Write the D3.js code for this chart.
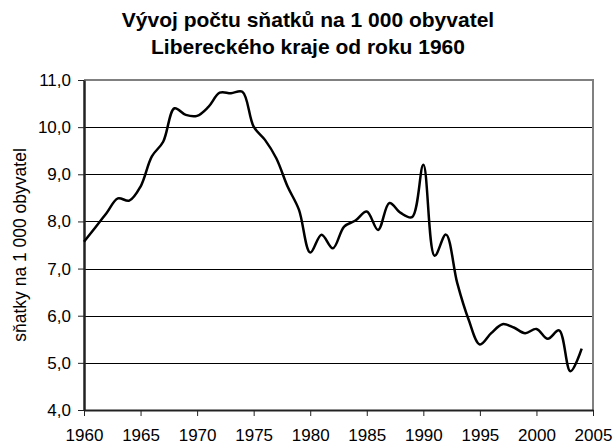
<!DOCTYPE html>
<html>
<head>
<meta charset="utf-8">
<script src="https://cdn.jsdelivr.net/npm/d3@7"></script>
<style>
  body { margin: 0; background: #fff; }
  text { font-family: "Liberation Sans", Arial, sans-serif; }
</style>
</head>
<body>
<div id="chart"></div>
<script>
// Marriages per 1 000 inhabitants, Liberec region
var years = [1960, 1961, 1962, 1963, 1964, 1965, 1966, 1967, 1968, 1969,
             1970, 1971, 1972, 1973, 1974, 1975, 1976, 1977, 1978, 1979,
             1980, 1981, 1982, 1983, 1984, 1985, 1986, 1987, 1988, 1989,
             1990, 1991, 1992, 1993, 1994, 1995, 1996, 1997, 1998, 1999,
             2000, 2001, 2002, 2003, 2004];
var rates = [7.57, 7.87, 8.18, 8.49, 8.44, 8.74, 9.38, 9.69, 10.40, 10.26,
             10.24, 10.43, 10.73, 10.72, 10.75, 10.01, 9.73, 9.34, 8.74, 8.25,
             7.34, 7.72, 7.43, 7.89, 8.02, 8.21, 7.82, 8.39, 8.18, 8.09,
             9.20, 7.27, 7.72, 6.69, 5.92, 5.39, 5.63, 5.82, 5.75, 5.63,
             5.72, 5.51, 5.69, 4.82, 5.30];
var xTicks = [1960, 1965, 1970, 1975, 1980, 1985, 1990, 1995, 2000, 2005];
var yTicks = [4, 5, 6, 7, 8, 9, 10, 11];
var titleLines = ["Vývoj počtu sňatků na 1 000 obyvatel", "Libereckého kraje od roku 1960"];
var yTitle = "sňatky na 1 000 obyvatel";

var width = 615, height = 443;
// plot area edges (avoid "top" - it's window.top)
var plotLeft = 84, plotRight = 593, plotTop = 80, plotBottom = 410;

var svg = d3.select("#chart").append("svg")
  .attr("width", width)
  .attr("height", height);

var x = d3.scaleLinear().domain([1960, 2005]).range([plotLeft, plotRight]);
var y = d3.scaleLinear().domain([4, 11]).range([plotBottom, plotTop]);

// title, centred on the whole chart
svg.append("g").selectAll("text").data(titleLines).enter().append("text")
  .attr("x", 308)
  .attr("y", function(d, i) { return 27 + i * 27; })
  .attr("text-anchor", "middle")
  .attr("font-size", "21px")
  .attr("font-weight", "bold")
  .attr("fill", "#000")
  .text(function(d) { return d; });

// horizontal gridlines
svg.append("g").selectAll("line").data(yTicks.slice(1, -1)).enter().append("line")
  .attr("x1", plotLeft).attr("x2", plotRight)
  .attr("y1", function(d) { return Math.round(y(d)) + 0.5; })
  .attr("y2", function(d) { return Math.round(y(d)) + 0.5; })
  .attr("stroke", "#000")
  .attr("stroke-width", 1);

// top and right border of plot area
svg.append("path")
  .attr("d", "M" + plotLeft + "," + plotTop + "H" + plotRight + "V" + plotBottom)
  .attr("fill", "none")
  .attr("stroke", "#808080")
  .attr("stroke-width", 2);

// x axis
var xAxis = svg.append("g")
  .attr("transform", "translate(0," + plotBottom + ")")
  .call(d3.axisBottom(x).tickValues(xTicks).tickFormat(d3.format("d"))
    .tickSize(6).tickSizeOuter(0).tickPadding(13));
xAxis.select(".domain").attr("stroke", "#222").attr("stroke-width", 2);
xAxis.selectAll(".tick line").attr("stroke", "#222").attr("stroke-width", 1);
xAxis.selectAll("text").attr("font-size", "17px").attr("fill", "#000")
  .attr("font-family", "Liberation Sans, Arial, sans-serif");

// y axis
var yAxis = svg.append("g")
  .attr("transform", "translate(" + plotLeft + ",0)")
  .call(d3.axisLeft(y).tickValues(yTicks)
    .tickFormat(function(d) { return d3.format(".1f")(d).replace(".", ","); })
    .tickSize(6).tickSizeOuter(0).tickPadding(7));
yAxis.select(".domain").attr("stroke", "#222").attr("stroke-width", 2.5);
yAxis.selectAll(".tick line").attr("stroke", "#222").attr("stroke-width", 1);
yAxis.selectAll("text").attr("font-size", "17px").attr("fill", "#000")
  .attr("font-family", "Liberation Sans, Arial, sans-serif");

// y axis title
svg.append("text")
  .attr("transform", "translate(26," + ((plotTop + plotBottom) / 2) + ") rotate(-90)")
  .attr("text-anchor", "middle")
  .attr("font-size", "17.5px")
  .attr("fill", "#000")
  .text(yTitle);

// smoothed line
var series = years.map(function(d, i) { return { year: d, value: rates[i] }; });
var line = d3.line()
  .x(function(d) { return x(d.year); })
  .y(function(d) { return y(d.value); })
  .curve(d3.curveCatmullRom.alpha(0.5));

svg.append("path")
  .datum(series)
  .attr("d", line)
  .attr("fill", "none")
  .attr("stroke", "#000")
  .attr("stroke-width", 2.5)
  .attr("stroke-linejoin", "round");
</script>
</body>
</html>
